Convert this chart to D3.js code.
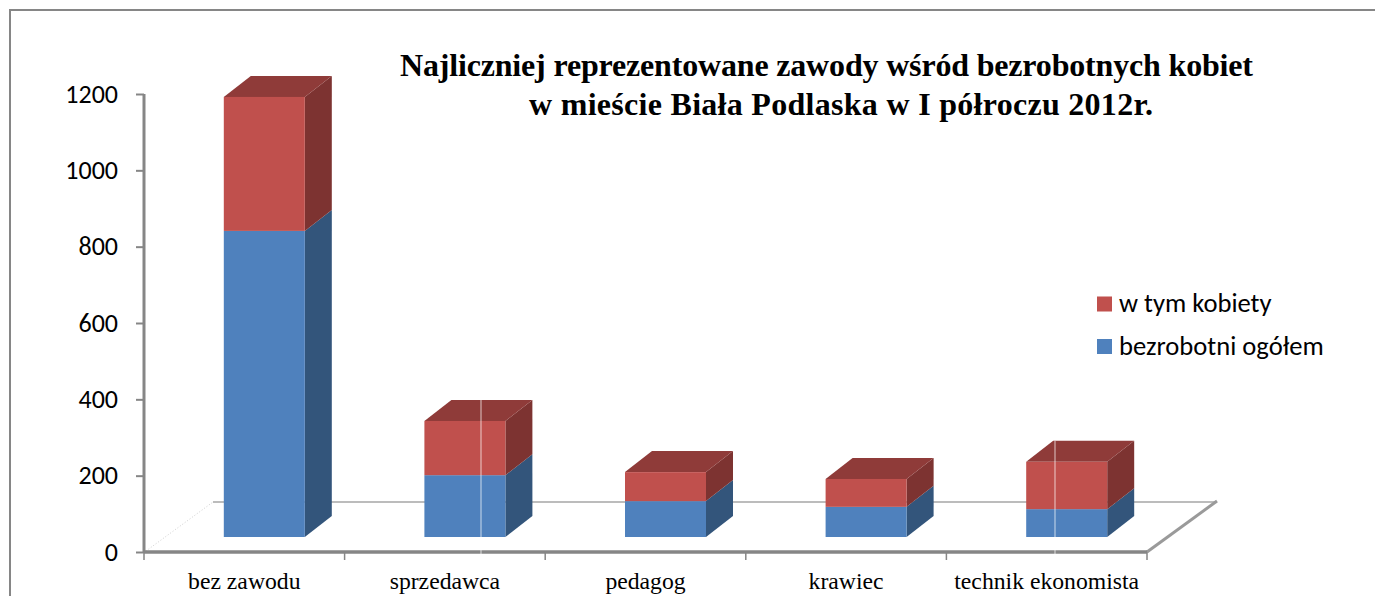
<!DOCTYPE html>
<html><head><meta charset="utf-8">
<script src="https://cdn.jsdelivr.net/npm/d3@7"></script>
<style>html,body{margin:0;padding:0;background:#fff;overflow:hidden}svg{display:block}</style>
</head><body><svg id="c" width="1375" height="596"></svg>
<script>
const categories = ["bez zawodu","sprzedawca","pedagog","krawiec","technik ekonomista"];
const seriesTotal = [802,162,94,79,73];
const seriesWomen = [351,142,76,73,124];
const seriesNames = ["bezrobotni ogółem","w tym kobiety"];
const yTicks = [0,200,400,600,800,1000,1200];
const titleLines = ["Najliczniej reprezentowane zawody wśród bezrobotnych kobiet","w mieście Biała Podlaska w I półroczu 2012r."];

const svg = d3.select("#c");
const axisCol = "#868686";
const front = {blue:"#4f81bd",red:"#c0504d"};
const side = {blue:"#33557b",red:"#7d3331"};
const topCol = "#8f3b39";
const dx = 27, dy = 21, baseLift = 15;
const sans = "Carlito, Lato, 'Open Sans', sans-serif";

svg.append("path").attr("d","M10,596V10H1375").attr("fill","none").attr("stroke",axisCol).attr("stroke-width",2);

const y = d3.scaleLinear().domain([0,1200]).range([552,94]);
const x = d3.scaleBand().domain(categories).range([144,1147]).paddingInner(0).paddingOuter(0);
const barW = 81;

// floor
svg.append("path").attr("d","M213,502H1217").attr("fill","none").attr("stroke","#a6a6a6").attr("stroke-width",1.5);
svg.append("path").attr("d","M146,551L213,502").attr("fill","none").attr("stroke","#d0d0d0").attr("stroke-width",1).attr("stroke-dasharray","1 2");
svg.append("path").attr("d","M1147,552L1217,501").attr("fill","none").attr("stroke","#9a9a9a").attr("stroke-width",3);

// axes
const yAxis = d3.axisLeft(y).tickValues(yTicks).tickSize(8).tickPadding(18).tickFormat(d3.format("d"));
const gy = svg.append("g").attr("transform","translate(144,0)").call(yAxis);
gy.select(".domain").attr("stroke",axisCol).attr("stroke-width",3).attr("d","M0,94V553");
gy.selectAll(".tick line").attr("stroke",axisCol).attr("stroke-width",2);
gy.selectAll(".tick text").attr("font-family",sans).attr("font-size",26).attr("fill","#000");

const xAxis = d3.axisBottom(x).tickSize(0).tickPadding(20);
const gx = svg.append("g").attr("transform","translate(0,552)").call(xAxis);
gx.select(".domain").attr("stroke",axisCol).attr("stroke-width",3.5).attr("d","M144,0H1147");
gx.selectAll(".tick text").attr("font-family","'Liberation Serif', serif").attr("font-size",23.7).attr("fill","#000");
gx.selectAll(".tickmark").data(d3.range(categories.length+1)).join("line")
  .attr("x1",i=>144+x.step()*i).attr("x2",i=>144+x.step()*i).attr("y1",0).attr("y2",8)
  .attr("stroke",axisCol).attr("stroke-width",1.5);

// bars
const barsG = svg.append("g");
categories.forEach((c,i)=>{
  const xl = x(c)+x.step()/2 - 20.5;
  const base = y(0)-baseLift;
  const h = v => y(0)-y(v);
  const y1 = base-h(seriesTotal[i]);
  const y2 = y1-h(seriesWomen[i]);
  const g = barsG.append("g");
  g.append("path").attr("d",`M${xl+barW},${base}L${xl+barW+dx},${base-dy}V${y1-dy}L${xl+barW},${y1}Z`).attr("fill",side.blue);
  g.append("path").attr("d",`M${xl+barW},${y1}L${xl+barW+dx},${y1-dy}V${y2-dy}L${xl+barW},${y2}Z`).attr("fill",side.red);
  g.append("path").attr("d",`M${xl},${y2}L${xl+dx},${y2-dy}H${xl+barW+dx}L${xl+barW},${y2}Z`).attr("fill",topCol);
  g.append("rect").attr("x",xl).attr("y",y1).attr("width",barW).attr("height",base-y1).attr("fill",front.blue);
  g.append("rect").attr("x",xl).attr("y",y2).attr("width",barW).attr("height",y1-y2).attr("fill",front.red);
});

// faint light seams across two bars
[[481,400],[1055,441]].forEach(([sx,sy])=>{
  svg.append("line").attr("x1",sx).attr("x2",sx).attr("y1",sy).attr("y2",556)
    .attr("stroke","#fff").attr("stroke-opacity",0.6).attr("stroke-width",1.2);
});

// legend
[1,0].forEach((k,r)=>{
  const ly = 304+r*42.5;
  svg.append("rect").attr("x",1097).attr("y",ly-7.5).attr("width",15).attr("height",15).attr("fill",k?front.red:front.blue);
  svg.append("text").attr("x",1119).attr("y",ly+8).attr("font-family",sans).attr("font-size",26.6).text(seriesNames[k]);
});

// title
const titleX = [826.5,841], titleY = [76,115], titleLen = [853,624];
titleLines.forEach((t,i)=>{
  svg.append("text").attr("x",titleX[i]).attr("y",titleY[i]).attr("text-anchor","middle")
    .attr("font-family","'Liberation Serif', serif").attr("font-weight","bold").attr("font-size",32)
    .attr("textLength",titleLen[i]).attr("lengthAdjust","spacing").text(t);
});
</script></body></html>
